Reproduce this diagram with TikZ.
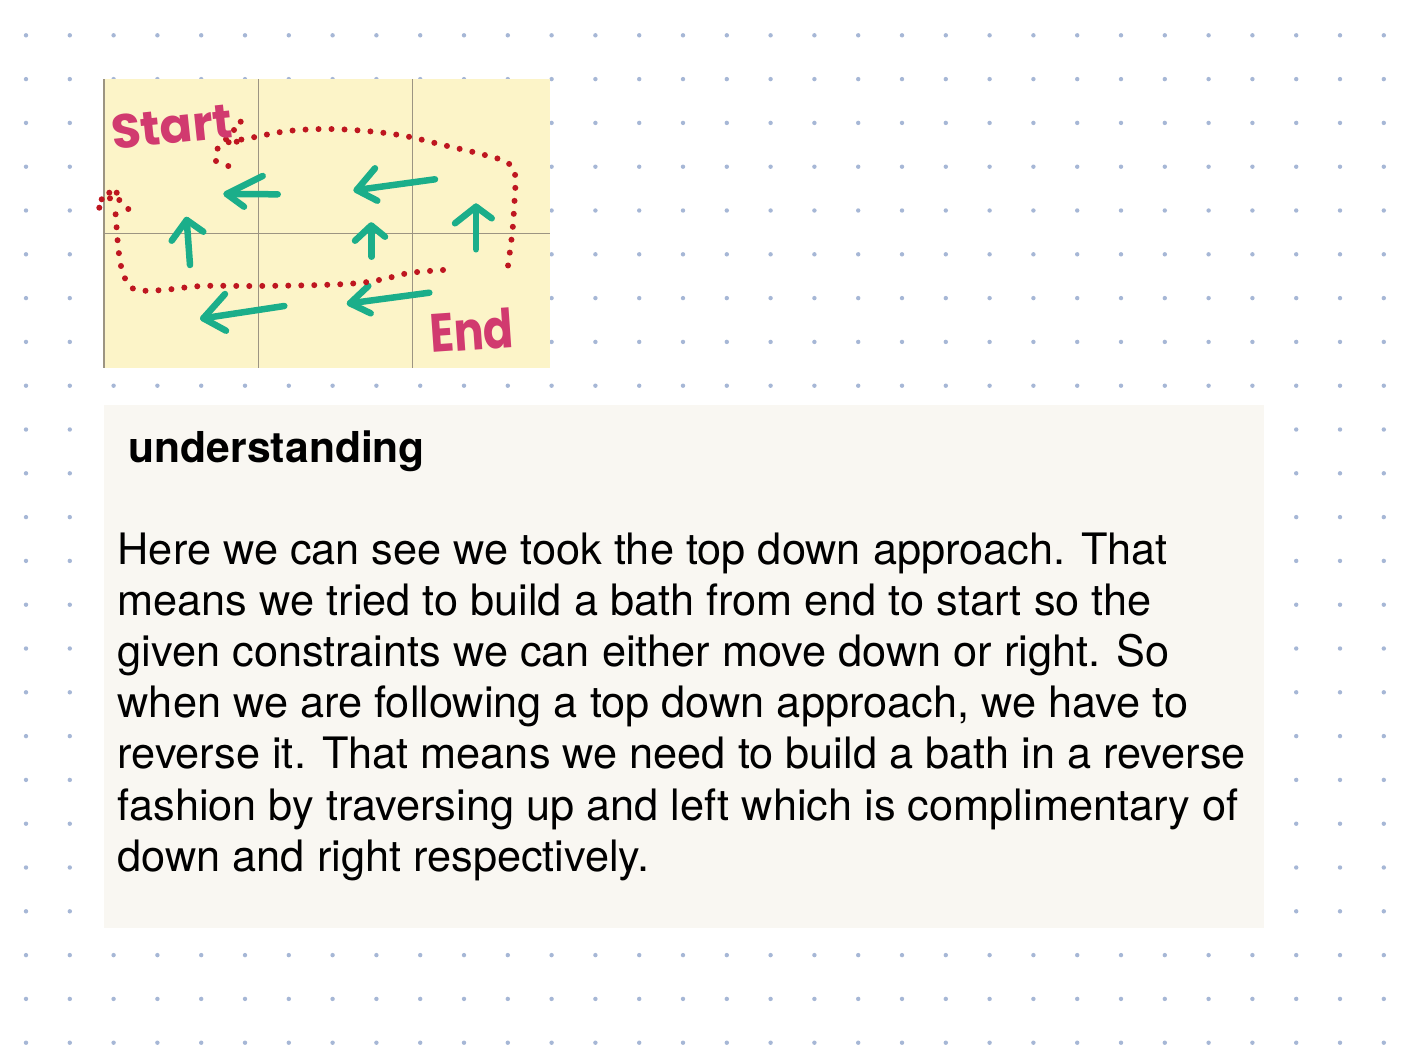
\documentclass[tikz,border=0pt]{standalone}
\usepackage{fontspec}
\setmainfont{TeX Gyre Heros}
\newfontfamily\handfont{Poppins}
\definecolor{dotc}{HTML}{A6B7D6}
\definecolor{stickyc}{HTML}{FCF4C8}
\definecolor{stickyline}{HTML}{9C9482}
\definecolor{paperc}{HTML}{F9F7F2}
\definecolor{greenc}{HTML}{1BAE8A}
\definecolor{redc}{HTML}{BE1620}
\definecolor{pinkc}{HTML}{D13A6F}
\tikzset{
  garrow/.style={draw=greenc, line width=6.5pt, line cap=round, line join=round},
  redpath/.style={draw=redc, line width=6pt, line cap=round, dash pattern=on 0pt off 13pt},
  reddot/.style={fill=redc},
  handlabel/.style={text=pinkc, font=\handfont\bfseries\fontsize{48}{48}\selectfont, inner sep=0pt},
  bodyline/.style={anchor=base west, inner sep=0pt, font=\fontsize{43.3}{51}\selectfont, text=black},
}
\begin{document}
\begin{tikzpicture}[x=1pt,y=-1pt]
\useasboundingbox (0,0) rectangle (1422,1058);
\fill[white] (0,0) rectangle (1422,1058);
% dot grid
\foreach \i in {0,...,31}{
  \foreach \j in {0,...,23}{
    \fill[dotc] ({26+43.8*\i},{35.3+43.8*\j}) circle (2.2pt);
  }
}
% sticky note
\fill[stickyc] (104,79) rectangle (550,368);
\draw[stickyline, line width=1.3pt] (104,79) -- (104,368);
\draw[stickyline, line width=1.3pt] (258.3,79) -- (258.3,368);
\draw[stickyline, line width=1.3pt] (412.7,79) -- (412.7,368);
\draw[stickyline, line width=1.3pt] (104,233.3) -- (550,233.3);
% green arrows
\draw[garrow] (277.7,194.3) -- (226.7,194);
\draw[garrow] (262.7,176) -- (226.7,194) -- (244,206.7);
\draw[garrow] (435,179.3) -- (356.7,190);
\draw[garrow] (375,168.3) -- (356.7,190) -- (377.3,200.7);
\draw[garrow] (190,265) -- (186.7,220);
\draw[garrow] (171.7,240.7) -- (186.7,220) -- (203.3,231.7);
\draw[garrow] (371.7,256.7) -- (371.7,226);
\draw[garrow] (355,240.7) -- (371.2,225.5) -- (385,236.7);
\draw[garrow] (476,249.3) -- (476,206.7);
\draw[garrow] (455,223.3) -- (476,206.7) -- (491.7,218.3);
\draw[garrow] (284.3,306) -- (203.3,318.3);
\draw[garrow] (225,294) -- (203.3,318.3) -- (226,330.7);
\draw[garrow] (429.3,292.7) -- (350,303.3);
\draw[garrow] (368.3,286) -- (350,303.3) -- (370.7,313.3);
% red dotted paths
\draw[redpath] plot[smooth, tension=0.6] coordinates {(216,161) (216,151) (226,143) (250,138) (288,131) (327,129) (366,131) (405,136) (443,145) (481,154) (506,162) (515,174) (514,209) (512,235) (507,273)};
\draw[redpath] plot[smooth, tension=0.6] coordinates {(443,270) (409,273) (384,279) (359,283) (320,285) (254,286) (202,286) (163,290) (137,290) (127,282) (121,266) (118,245) (116,219) (115,207)};
\foreach \p in {(240.7,121.7),(234,130),(226,139.3),(228.3,166),(236.7,141.7),(119.3,200),(116.7,192.7),(109.3,192.7),(110,198.3),(101.7,199.3),(99.3,207.7),(128.3,209)}{
  \fill[reddot] \p circle (3pt);
}
% handwritten labels
\node[handlabel, rotate=6, anchor=base west] (start) at (113,150) {Start};
\node[handlabel, rotate=4, anchor=base west, xscale=0.82, font=\handfont\bfseries\fontsize{54}{54}\selectfont] (end) at (431,353) {End};
% text box
\fill[paperc] (104,405) rectangle (1264,928);
\node[anchor=base west, inner sep=0pt, font=\bfseries\fontsize{42.6}{50}\selectfont] (title) at (128.5,462) {understanding};
\node[bodyline] (l1) at (117.5,564) {Here we can see we took the top down approach. That};
\node[bodyline] (l2) at (117.5,615.2) {means we tried to build a bath from end to start so the};
\node[bodyline] (l3) at (117.5,666.4) {given constraints we can either move down or right. So};
\node[bodyline] (l4) at (117.5,717.6) {when we are following a top down approach, we have to};
\node[bodyline] (l5) at (117.5,768.8) {reverse it. That means we need to build a bath in a reverse};
\node[bodyline] (l6) at (117.5,820) {fashion by traversing up and left which is complimentary of};
\node[bodyline] (l7) at (117.5,871.2) {down and right respectively.};
\end{tikzpicture}
\end{document}
